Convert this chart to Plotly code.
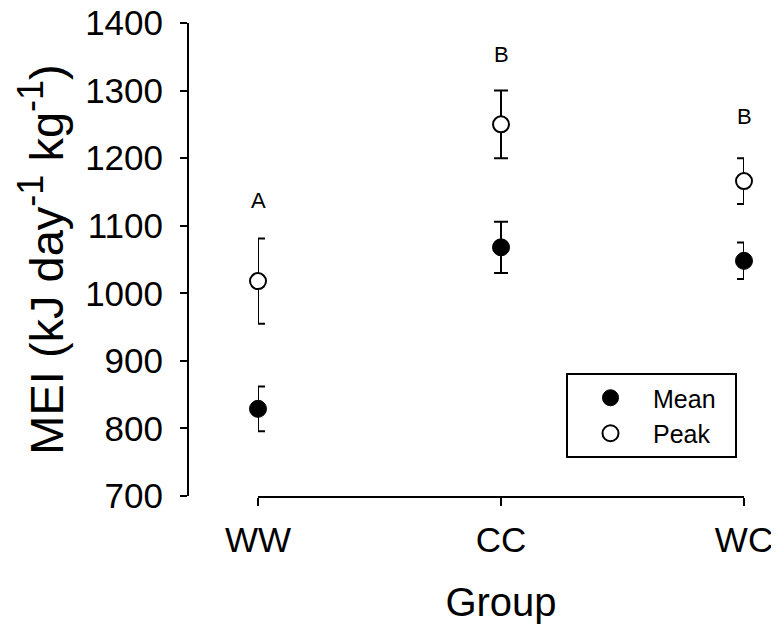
import plotly.graph_objects as go

groups = ["WW", "CC", "WC"]
mean_vals = [829, 1068, 1048]
mean_err = [33, 38, 27]
peak_vals = [1018, 1250, 1166]
peak_err = [63, 50, 34]
letters = ["A", "B", "B"]
letter_y = [1138, 1353, 1261]
y_ticks = [700, 800, 900, 1000, 1100, 1200, 1300, 1400]

FONT = "Liberation Sans, Arial, sans-serif"
xpos = list(range(len(groups)))

OFF = 8  # page body margin
W, H = 779 - OFF, 629 - OFF
L, T = 188 - OFF, 23 - OFF
R = 11
B = H - (496 - OFF)
pw = W - L - R
ph = H - T - B
x0px, x1px = 258 - OFF, 744 - OFF
dom = [(x0px - L) / pw, (x1px - L) / pw]

fig = go.Figure()
fig.add_trace(go.Scatter(
    x=xpos, y=mean_vals, mode="markers", name="Mean\u00a0\u00a0",
    marker=dict(symbol="circle", size=17, color="black", line=dict(color="black", width=1)),
    error_y=dict(type="data", array=mean_err, symmetric=True, visible=True,
                 color="black", thickness=2, width=7),
    cliponaxis=False,
))
fig.add_trace(go.Scatter(
    x=xpos, y=peak_vals, mode="markers", name="Peak",
    marker=dict(symbol="circle", size=16, color="white", line=dict(color="black", width=2)),
    error_y=dict(type="data", array=peak_err, symmetric=True, visible=True,
                 color="black", thickness=2, width=7),
    cliponaxis=False,
))

for xi, t, yv in zip(xpos, letters, letter_y):
    fig.add_annotation(x=xi, y=yv, xref="x", yref="y", text=t, showarrow=False,
                       font=dict(family=FONT, size=22, color="black"), yanchor="middle")

sup = '<sup><span style="font-size:36px">-1</span></sup>'
fig.update_layout(
    width=W, height=H,
    margin=dict(l=L, r=R, t=T, b=B, pad=0, autoexpand=False),
    paper_bgcolor="white", plot_bgcolor="white",
    font=dict(family=FONT, color="black"),
    showlegend=True,
    legend=dict(
        x=(566 - OFF - L) / pw, y=(H - B - (373 - OFF)) / ph, xanchor="left", yanchor="top",
        bordercolor="black", borderwidth=2, bgcolor="white",
        font=dict(family=FONT, size=25, color="black"),
        itemwidth=75,
    ),
    xaxis=dict(
        domain=dom, range=[0, 2], tickvals=xpos, ticktext=groups,
        showline=True, linecolor="black", linewidth=2, mirror=False,
        ticks="outside", ticklen=8, tickwidth=2, tickcolor="black",
        showgrid=False, zeroline=False, anchor="y", automargin=False,
        tickfont=dict(family=FONT, size=35, color="black"),
        ticklabelstandoff=4, ticklabeloverflow="allow",
        title=dict(text="Group", font=dict(family=FONT, size=40, color="black"), standoff=30),
    ),
    yaxis=dict(
        range=[700, 1400], tickvals=y_ticks,
        showline=True, linecolor="black", linewidth=2,
        ticks="outside", ticklen=7, tickwidth=2, tickcolor="black",
        showgrid=False, zeroline=False, anchor="free", position=0, automargin=False,
        tickfont=dict(family=FONT, size=35, color="black"),
        ticklabelstandoff=10, ticklabeloverflow="allow",
        title=dict(text="MEI (kJ day" + sup + " kg" + sup + ")",
                   font=dict(family=FONT, size=47, color="black"), standoff=6),
    ),
)

fig.write_html("out.html")
